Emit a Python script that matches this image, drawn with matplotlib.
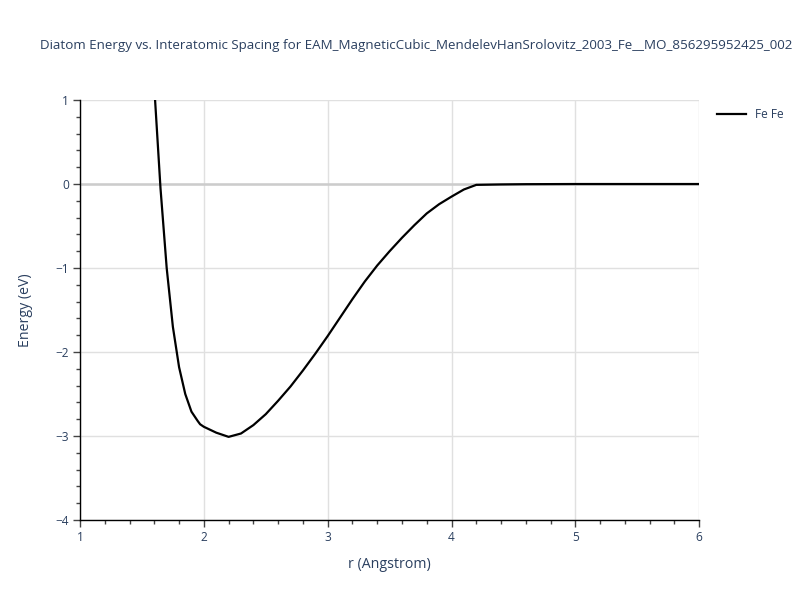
import matplotlib.pyplot as plt
from matplotlib.ticker import MultipleLocator

# diatom energy curve
r = [1.60, 1.65, 1.70, 1.75, 1.80, 1.85, 1.90, 1.95, 1.97, 2.00, 2.10, 2.20,
     2.30, 2.40, 2.50, 2.60, 2.70, 2.80, 2.90, 3.00, 3.10, 3.20, 3.30, 3.40,
     3.50, 3.60, 3.70, 3.80, 3.90, 4.00, 4.10, 4.20, 4.40, 4.60, 5.00, 6.00]
energy = [1.15, -0.05, -1.00, -1.70, -2.18, -2.50, -2.71, -2.82, -2.86, -2.89,
          -2.96, -3.01, -2.97, -2.87, -2.74, -2.58, -2.41, -2.22, -2.02, -1.81,
          -1.59, -1.37, -1.16, -0.97, -0.80, -0.64, -0.49, -0.35, -0.24, -0.15,
          -0.065, -0.01, -0.005, -0.002, 0.0, 0.0]
series_name = 'Fe Fe'
title = 'Diatom Energy vs. Interatomic Spacing for EAM_MagneticCubic_MendelevHanSrolovitz_2003_Fe__MO_856295952425_002'

txt = '#2a3f5f'
plt.rcParams['font.family'] = ['Open Sans', 'DejaVu Sans']

fig = plt.figure(figsize=(8, 6), dpi=100)
ax = fig.add_axes([0.1, 0.1333, 0.774, 0.7])

ax.plot(r, energy, color='black', lw=1.6, label=series_name, zorder=3)

ax.set_xlim(1, 6)
ax.set_ylim(-4, 1)
ax.xaxis.set_major_locator(MultipleLocator(1))
ax.xaxis.set_minor_locator(MultipleLocator(0.2))
ax.yaxis.set_major_locator(MultipleLocator(1))
ax.yaxis.set_minor_locator(MultipleLocator(0.2))

ax.grid(True, which='major', color='#e0e0e0', lw=1)
ax.axhline(0, color='#cccccc', lw=1.8, zorder=1)
ax.set_axisbelow(True)

for s in ['top', 'right']:
    ax.spines[s].set_visible(False)
for s in ['left', 'bottom']:
    ax.spines[s].set_color('black')
    ax.spines[s].set_linewidth(1)

ax.tick_params(which='major', direction='out', length=5, width=1, color='#444444',
               labelsize=8.6, labelcolor=txt, pad=3)
ax.tick_params(which='minor', direction='out', length=3, width=1, color='#444444')

ax.set_xlabel('r (Angstrom)', fontsize=10.2, color=txt, labelpad=9)
ax.set_ylabel('Energy (eV)', fontsize=10.2, color=txt, labelpad=16)

fig.text(0.05, 0.925, title, fontsize=9.6, color=txt, ha='left', va='center')

leg = ax.legend(loc='upper left', bbox_to_anchor=(1.015, 1.0), frameon=False,
                fontsize=8.6, handlelength=2.4, borderaxespad=0.3)
for t in leg.get_texts():
    t.set_color(txt)

fig.savefig('out.png', dpi=100)
